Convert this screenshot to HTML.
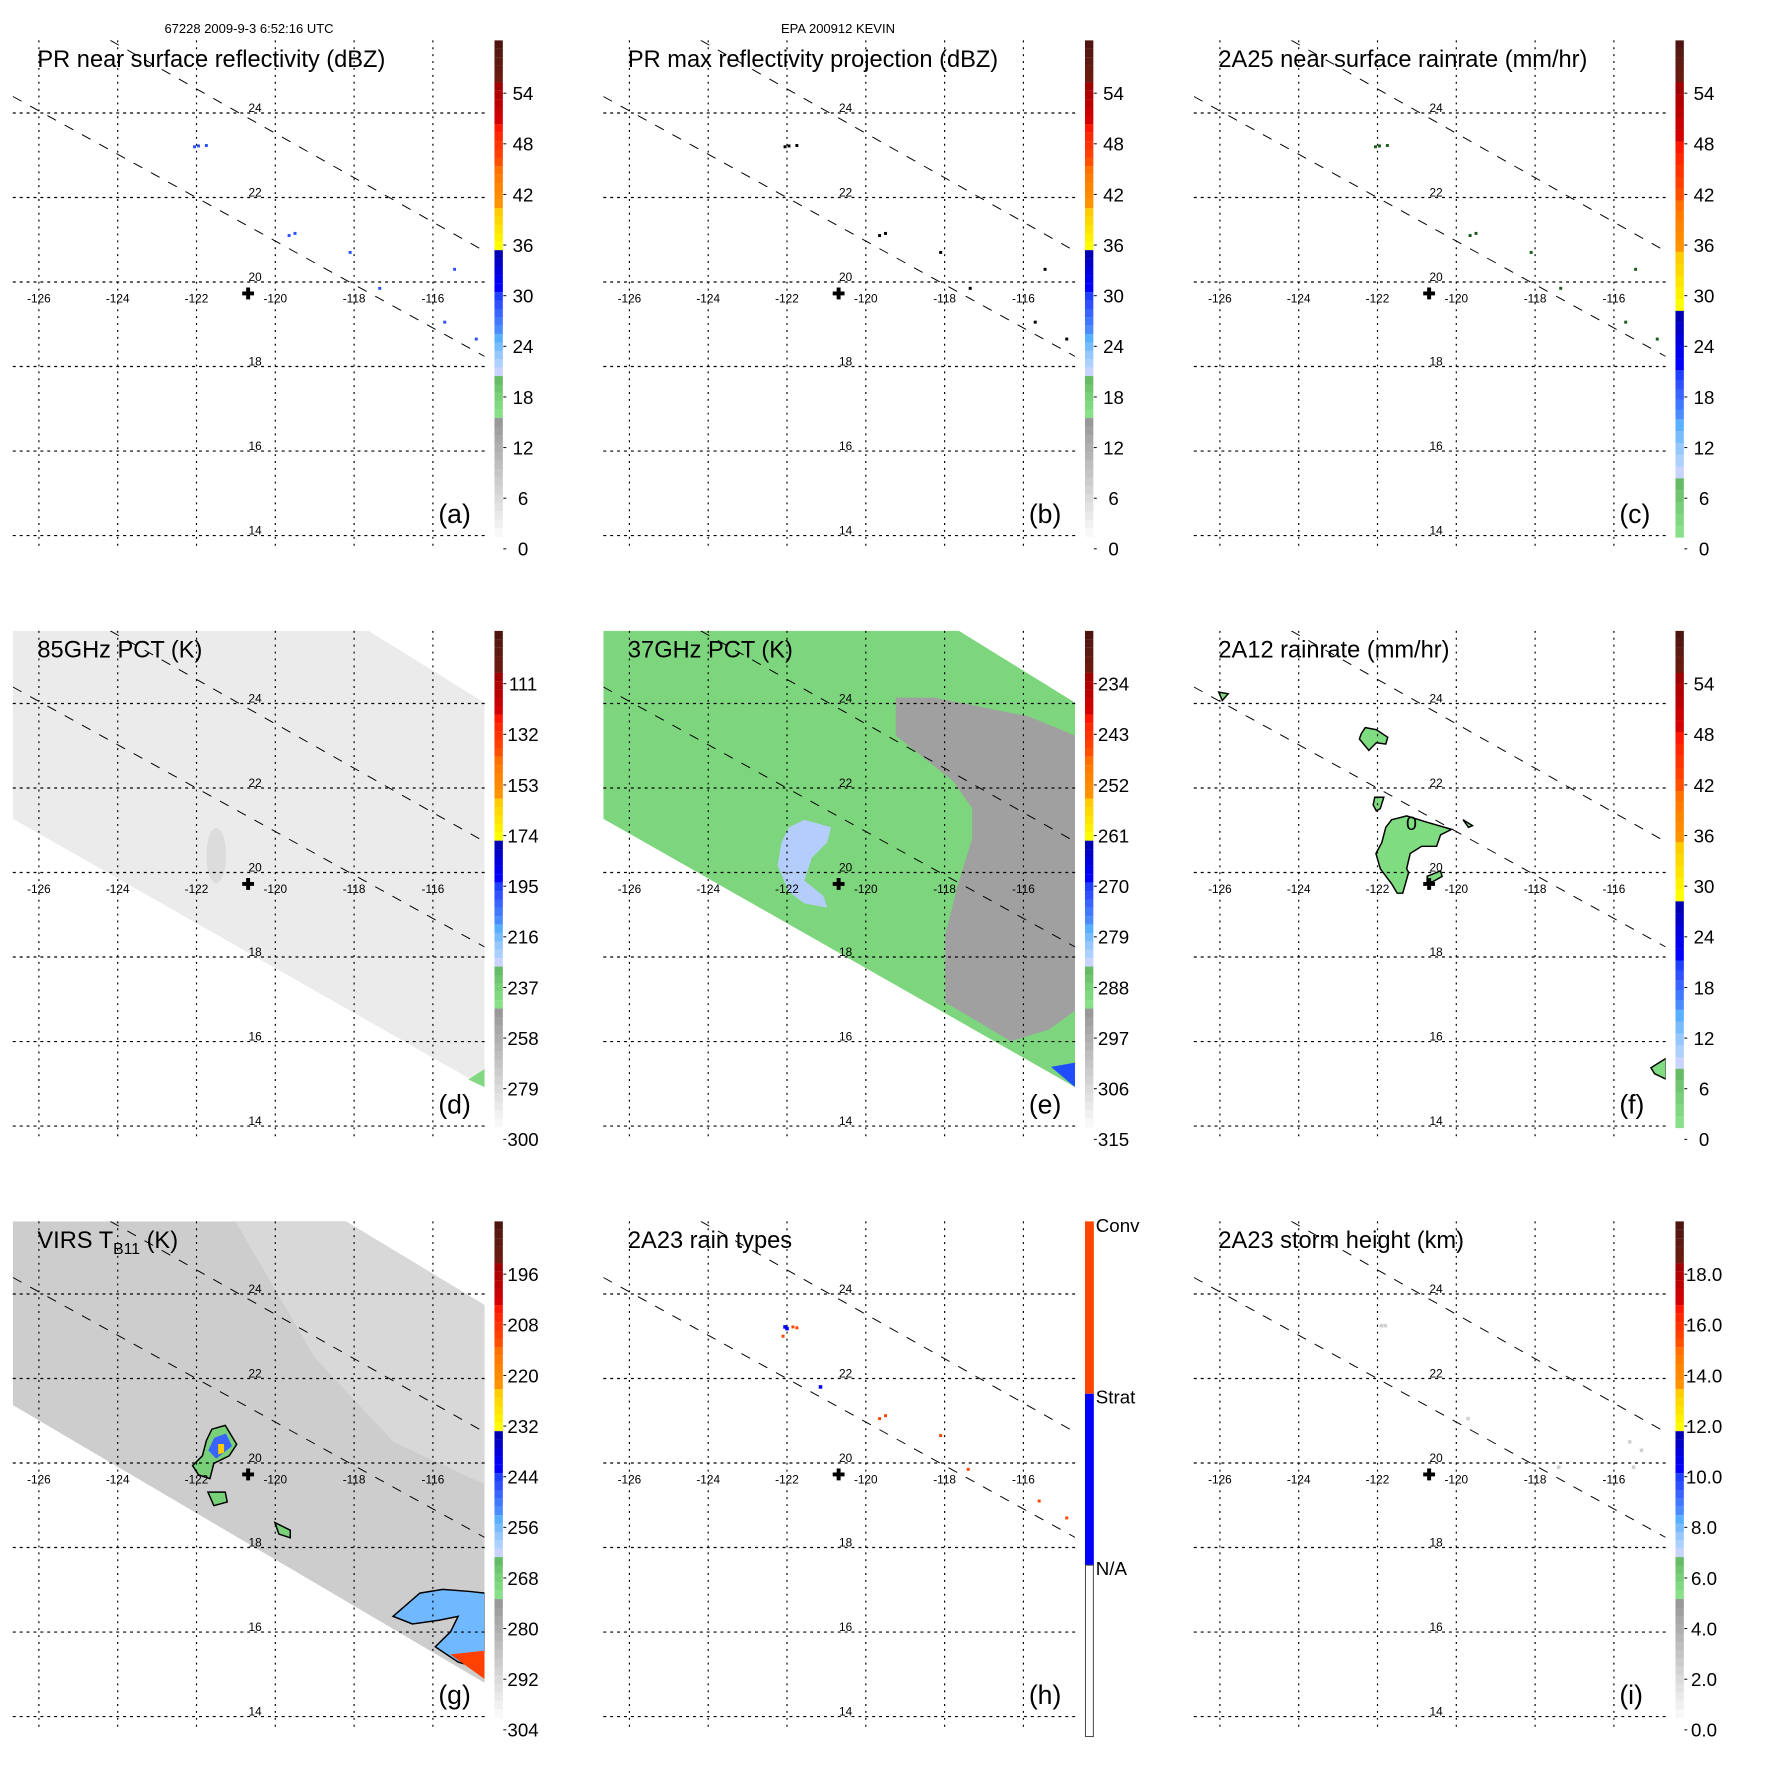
<!DOCTYPE html>
<html><head><meta charset="utf-8"><style>
html,body{margin:0;padding:0;background:#fff;}
svg{display:block;font-family:"Liberation Sans",sans-serif;}
</style></head><body>
<svg id="fig" width="1771" height="1771" viewBox="0 0 1771 1771" xmlns="http://www.w3.org/2000/svg">
<text x="249" y="33" font-size="13" text-anchor="middle">67228 2009-9-3 6:52:16 UTC</text>
<text x="838" y="33" font-size="13" text-anchor="middle">EPA 200912 KEVIN</text>
</svg>
<script>
// ---- data arrays ----
const lonTicks = [-126,-124,-122,-120,-118,-116];
const latTicks = [24,22,20,18,16,14];
const stormCenter = [-120.69, 19.73];
const trackA = [[-126.66,24.39],[-114.69,18.24]];
const trackB = [[-124.19,25.72],[-114.69,20.73]];
const swathD = [[-126.66,25.72],[-117.64,25.72],[-114.69,24.02],[-114.69,14.92],[-126.66,21.27]];
const swathG = [[-126.66,25.72],[-118.21,25.72],[-114.69,23.74],[-114.69,14.80],[-126.66,21.37]];
const grayWarm37 = [[-119.24,24.14],[-118.27,24.14],[-117.30,23.96],[-115.85,23.69],[-114.69,23.24],[-114.69,16.73],[-115.36,16.28],[-116.33,16.01],[-117.30,16.55],[-117.98,16.92],[-117.98,18.54],[-117.69,19.63],[-117.30,20.80],[-117.30,21.52],[-117.78,22.16],[-118.75,22.88],[-119.24,23.24]];
const scatter37 = [[-121.56,21.25],[-120.88,21.07],[-120.98,20.71],[-121.37,20.35],[-121.56,19.81],[-121.08,19.45],[-120.98,19.17],[-121.56,19.27],[-121.95,19.54],[-122.24,20.17],[-122.14,20.71],[-121.95,21.07]];
const rain12Main = [[-121.64,21.25],[-121.26,21.34],[-120.78,21.20],[-120.12,21.02],[-120.40,20.89],[-120.50,20.62],[-120.88,20.62],[-121.17,20.45],[-121.26,20.09],[-121.21,20.00],[-121.36,19.51],[-121.50,19.51],[-121.64,19.73],[-121.93,20.09],[-122.04,20.45],[-121.89,20.71],[-121.79,21.07]];
const rain12North = [[-122.41,23.29],[-122.31,23.43],[-122.03,23.38],[-121.74,23.20],[-121.79,23.04],[-122.03,23.07],[-122.22,22.89],[-122.46,23.16]];
const rain12Small = [[-122.07,21.78],[-121.84,21.78],[-121.93,21.51],[-122.03,21.46],[-122.11,21.60]];
const rain12Center = [[-120.74,19.91],[-120.40,20.04],[-120.36,19.91],[-120.60,19.78],[-120.74,19.78]];
const rain12East = [[-119.83,21.25],[-119.59,21.11],[-119.69,21.07]];
const rain12NW = [[-126.03,24.27],[-125.79,24.23],[-125.94,24.07]];
const rain12SE = [[-115.06,15.38],[-114.68,15.60],[-114.68,15.11],[-114.97,15.24]];
const irCore = [[-121.61,20.80],[-121.27,20.89],[-120.98,20.44],[-121.17,20.17],[-121.56,19.99],[-121.66,19.63],[-121.95,19.72],[-122.10,19.94],[-121.85,20.17],[-121.75,20.53]];
const irSouth = [[-121.71,19.31],[-121.27,19.31],[-121.22,19.08],[-121.56,18.99]];
const irSmall = [[-120.01,18.59],[-119.62,18.41],[-119.62,18.23],[-119.91,18.32]];
const irSE = [[-117.01,16.37],[-116.33,16.92],[-115.75,17.01],[-115.07,16.96],[-114.68,16.92],[-114.68,15.11],[-115.36,15.29],[-115.94,15.65],[-115.55,16.01],[-115.36,16.37],[-115.85,16.28],[-116.52,16.19]];
const irHot = [[-115.56,15.47],[-114.68,15.56],[-114.68,14.88]];
const prEchoes = [[-122.05,23.2],[-121.95,23.22],[-121.75,23.23],[-119.65,21.1],[-119.5,21.15],[-118.1,20.7],[-117.35,19.85],[-115.7,19.05],[-114.9,18.65],[-115.45,20.3]];
const typeConv = [[-121.75,23.2],[-121.85,23.22],[-119.65,21.05],[-119.5,21.12],[-118.1,20.65],[-117.4,19.85],[-115.6,19.1],[-114.9,18.7],[-122.1,23.0]];
const typeStrat = [[-122.05,23.22],[-122.0,23.18],[-121.15,21.8]];
const heightEchoes = [[-121.9,23.25],[-121.8,23.25],[-119.7,21.05],[-115.6,20.5],[-115.3,20.3],[-115.5,19.9],[-117.4,19.9]];
const titles = ["PR near surface reflectivity (dBZ)","PR max reflectivity projection (dBZ)","2A25 near surface rainrate (mm/hr)","85GHz PCT (K)","37GHz PCT (K)","2A12 rainrate (mm/hr)","VIRS T_B11 (K)","2A23 rain types","2A23 storm height (km)"];
const panelTags = ["(a)","(b)","(c)","(d)","(e)","(f)","(g)","(h)","(i)"];
const cbLabels = [
 ["54","48","42","36","30","24","18","12","6","0"],
 ["54","48","42","36","30","24","18","12","6","0"],
 ["54","48","42","36","30","24","18","12","6","0"],
 ["111","132","153","174","195","216","237","258","279","300"],
 ["234","243","252","261","270","279","288","297","306","315"],
 ["54","48","42","36","30","24","18","12","6","0"],
 ["196","208","220","232","244","256","268","280","292","304"],
 [],
 ["18.0","16.0","14.0","12.0","10.0","8.0","6.0","4.0","2.0","0.0"]];

// ---- layout ----
const NS="http://www.w3.org/2000/svg";
const svg=document.getElementById('fig');
const X=lon=>39.5+(lon+126)*40;
const Y=lat=>114.7+(24-lat)*42.9;
const pts=a=>a.map(p=>X(p[0]).toFixed(1)+','+Y(p[1]).toFixed(1)).join(' ');
function mk(tag,attrs,parent){const e=document.createElementNS(NS,tag);for(const k in attrs)e.setAttribute(k,attrs[k]);(parent||svg).appendChild(e);return e;}

const groups={brown:['#4e1510','#561811','#5c1a12','#641a10','#6a1a0f'],dred:['#a00000','#b00000','#bb0000','#c80000','#d40000'],red:['#ff1800','#ff2800','#ff3400','#ff4000','#ff5000'],orange:['#ff7000','#ff7c00','#ff8400','#ff8c00','#ff9400'],yellow:['#ffcc00','#ffd800','#ffe400','#fff000','#ffff00'],dblue:['#0000b4','#0000c8','#0000dc','#0000f0','#0000ff'],blue:['#2040ff','#3050ff','#3a64ff','#4078ff','#4a8cff'],lblue:['#58b0ff','#78bcff','#96c8ff','#acd0ff','#c8d4ff'],green:['#66bb66','#70c670','#78d078','#80d880','#88e088']};
const grays=[];for(let i=0;i<14;i++){const v=Math.round(0x99+(0xf8-0x99)*i/13);grays.push('rgb('+v+','+v+','+v+')');}
function stdBar(g){let y=41;const order=['brown','dred','red','orange','yellow','dblue','blue','lblue','green'];
 order.forEach(k=>{groups[k].forEach(c=>{const r=mk('rect',{x:502,y:y.toFixed(2),width:8.5,height:8.6,fill:c},g);y+=8.52;});});
 grays.forEach(c=>{const r=mk('rect',{x:502,y:y.toFixed(2),width:8.5,height:8.8,fill:c},g);y+=8.6;});}
function rainBar(g){let y=41;const spec=[['brown',42.6],['dred',60],['red',60],['orange',52],['yellow',60],['dblue',60],['blue',50],['lblue',60],['green',60]];
 spec.forEach(s=>{const h=s[1]/5;groups[s[0]].forEach(c=>{const r=mk('rect',{x:502,y:y.toFixed(2),width:8.5,height:h+0.2,fill:c},g);y+=h;});});}

function poly(g,data,fill,stroke,name){const p=mk('polygon',{points:pts(data),fill:fill,stroke:stroke||'none','stroke-width':1.5},g);return p;}
function dots(g,data,fill,r,name){data.forEach(d=>{const c=mk('rect',{x:X(d[0])-r,y:Y(d[1])-r,width:2*r,height:2*r,fill:fill},g);});}

for(let i=0;i<9;i++){
 const col=i%3,row=Math.floor(i/3);
 const g=mk('g',{transform:'translate('+(col*590.5)+','+(row*590.5)+') scale(0.985)'});
 
 
 const clipId='clip'+i;
 const cp=mk('clipPath',{id:clipId},g);mk('rect',{x:13,y:41,width:479,height:514},cp);
 const plot=mk('g',{'clip-path':'url(#'+clipId+')'},g);
 
 
 if(i===3){poly(plot,swathD,'#ebebeb',null,'tmi-85ghz-swath');
   const e=mk('ellipse',{cx:X(-121.5),cy:Y(20.4),rx:10,ry:28,fill:'#dcdcdc'},plot);
   poly(plot,[[-115.1,15.1],[-114.69,15.35],[-114.69,14.92]],'#80d880',null,'cold-corner');}
 if(i===4){const cid='sw4';const c2=mk('clipPath',{id:cid},g);mk('polygon',{points:pts(swathD)},c2);
   poly(plot,swathD,'#7dd67d',null,'tmi-37ghz-swath');
   const gg=mk('g',{'clip-path':'url(#'+cid+')'},plot);
   poly(gg,grayWarm37,'#a0a0a0',null,'warm-ocean-area');
   poly(gg,scatter37,'#b4cdfa',null,'ice-scatter-area');
   poly(gg,[[-115.3,15.4],[-114.69,15.5],[-114.69,14.92]],'#1f4dff',null,'scatter-corner');}
 if(i===5){[rain12Main,rain12North,rain12Small,rain12Center,rain12East,rain12NW,rain12SE].forEach(a=>poly(plot,a,'#80dc80','#000','rain-contour'));
   const t=mk('text',{x:234,y:243,'font-size':20,'text-anchor':'middle'},plot);t.textContent='0';}
 if(i===6){const cid='sw6';const c2=mk('clipPath',{id:cid},g);mk('polygon',{points:pts(swathG)},c2);
   poly(plot,swathG,'#cdcdcd',null,'virs-swath');
   const gg=mk('g',{'clip-path':'url(#'+cid+')'},plot);
   poly(gg,[[-121,25.7],[-117,25.7],[-114.7,24],[-114.7,19.5],[-117,20.5],[-119,22.5]],'#d8d8d8',null,'clear-area');
   poly(gg,irCore,'#78d078','#000','cold-cloud');
   poly(gg,[[-121.55,20.6],[-121.25,20.7],[-121.1,20.4],[-121.5,20.1],[-121.7,20.3]],'#3a64ff',null,'colder-cloud');
   poly(gg,[[-121.45,20.45],[-121.3,20.45],[-121.3,20.25],[-121.45,20.2]],'#ffcc00',null,'coldest-cloud');
   poly(gg,irSouth,'#78d078','#000','cold-cloud');
   poly(gg,irSmall,'#78d078','#000','cold-cloud');
   poly(gg,irSE,'#70b8ff','#000','cold-band');
   poly(gg,irHot,'#ff4000',null,'deep-convection');}
 if(i<3){dots(plot,prEchoes,i===1?'#000':(i===2?'#1a5a1a':'#2a50ff'),1.5,'rain-echo');}
 if(i===7){dots(plot,typeConv,'#ff4500',1.5,'convective-pixel');dots(plot,typeStrat,'#0000ff',1.8,'stratiform-pixel');}
 if(i===8){dots(plot,heightEchoes,'#d0d0d0',1.8,'storm-height-pixel');}
 lonTicks.forEach(l=>{const ln=mk('line',{x1:X(l),x2:X(l),y1:41,y2:555,stroke:'#000','stroke-width':1.2,'stroke-dasharray':'2,5'},g);
   const t=mk('text',{x:X(l),y:307,'font-size':12,'text-anchor':'middle'},g);t.textContent=String(l);});
 latTicks.forEach(l=>{const ln=mk('line',{x1:13,x2:492,y1:Y(l),y2:Y(l),stroke:'#000','stroke-width':1.2,'stroke-dasharray':'3,4'},g);
   const t=mk('text',{x:259,y:Y(l)-1,'font-size':12,'text-anchor':'middle'},g);t.textContent=String(l);});
 [trackA,trackB].forEach(tr=>{const ln=mk('line',{x1:X(tr[0][0]),y1:Y(tr[0][1]),x2:X(tr[1][0]),y2:Y(tr[1][1]),stroke:'#000','stroke-width':1,'stroke-dasharray':'10,10'},plot);});
 const cx=X(stormCenter[0]),cy=Y(stormCenter[1]);
 const pl=mk('path',{d:'M'+(cx-6)+' '+cy+'H'+(cx+6)+'M'+cx+' '+(cy-6)+'V'+(cy+6),stroke:'#000','stroke-width':4},g);
 const tt=mk('text',{x:38,y:68,'font-size':24},g);
 if(i===6){tt.textContent='VIRS T';const s=mk('tspan',{'font-size':16,dy:6},tt);s.textContent='B11';const s2=mk('tspan',{dy:-6},tt);s2.textContent=' (K)';}
 else tt.textContent=titles[i];
 const tg=mk('text',{x:445,y:531,'font-size':27},g);tg.textContent=panelTags[i];
 const cb=mk('g',{},g);
 if(i===7){
   const a=mk('rect',{x:502,y:41,width:9,height:175,fill:'#ff4500'},cb);
   const b=mk('rect',{x:502,y:216,width:9,height:174,fill:'#0000ff'},cb);
   const c=mk('rect',{x:502.5,y:390,width:8,height:174,fill:'#fff',stroke:'#444'},cb);
   [['Conv',52],['Strat',226],['N/A',400]].forEach(l=>{const t=mk('text',{x:513,y:l[1],'font-size':19},cb);t.textContent=l[0];});
 } else {
   if(i===2||i===5) rainBar(cb); else stdBar(cb);
   cbLabels[i].forEach((lab,k)=>{const y=94.6+k*51.4;
     const tk=mk('line',{x1:511,x2:514,y1:y,y2:y,stroke:'#000'},cb);
     const t=mk('text',{x:531,y:y+7,'font-size':19,'text-anchor':'middle'},cb);t.textContent=lab;});
 }
}
</script>
</body></html>
